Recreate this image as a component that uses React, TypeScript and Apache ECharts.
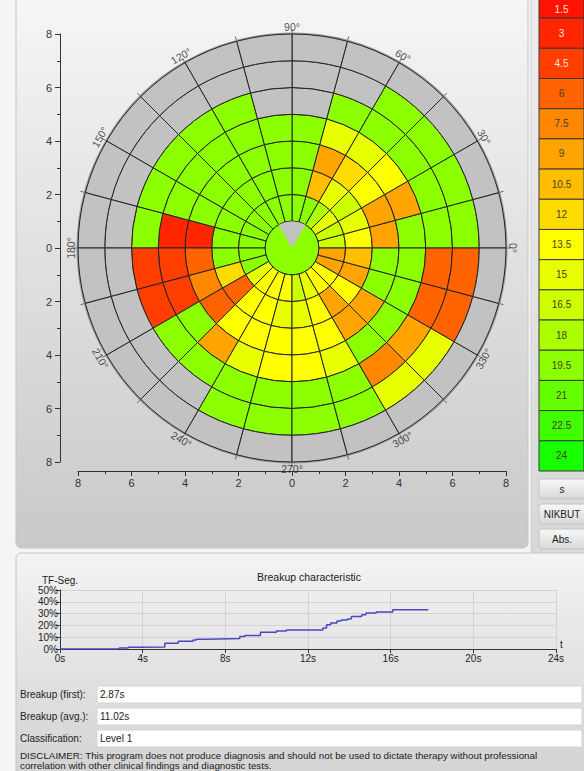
import React, { useEffect, useRef } from 'react';
import * as echarts from 'echarts';

// ---- colour scale (legend on the right) ----
const legendValues = ['1.5', '3', '4.5', '6', '7.5', '9', '10.5', '12', '13.5', '15', '16.5', '18', '19.5', '21', '22.5', '24'];
const legendColors = ['#ff1200', '#ff2600', '#ff3e00', '#ff6400', '#ff8800', '#ffa400', '#ffbf00', '#ffdc00', '#ffff00', '#e8ff00', '#ccff00', '#acff00', '#8cff00', '#66ff00', '#40ff00', '#18ff00'];
const GRAY = '#c2c2c2';

// ---- polar map: sector k spans [15k, 15k+15] degrees; ring j spans radius [j, j+1]; null = no data (gray) ----
const ring1 = [16.5, 16.5, 15, 18, 19.5, 19.5, 19.5, 19.5, 19.5, 19.5, 19.5, 19.5, 19.5, 19.5, 15, 13.5, 13.5, 13.5, 16.5, 15, 13.5, 13.5, 9, 9];
const ring2 = [13.5, 15, 16.5, 15, 10.5, 19.5, 19.5, 19.5, 19.5, 19.5, 19.5, 19.5, 19.5, 12, 6, 13.5, 13.5, 15, 15, 13.5, 9, 13.5, 9, 10.5];
const ring3 = [9, 9, 13.5, 12, 9, 19.5, 19.5, 19.5, 19.5, 19.5, 19.5, 3, 6, 7.5, 6, 13.5, 13.5, 13.5, 13.5, 13.5, 9, 9, 19.5, 19.5];
const ring4 = [19.5, 9, 13.5, 15, 15, 19.5, 19.5, 19.5, 19.5, 19.5, 19.5, 3, 4.5, 4.5, 19.5, 9, 15, 13.5, 13.5, 15, 19.5, 19.5, 19.5, 19.5];
const ring5 = [19.5, 19.5, 19.5, 19.5, 19.5, null, null, 19.5, 19.5, 19.5, 19.5, 19.5, 4.5, 4.5, 19.5, 19.5, 19.5, 19.5, 19.5, 19.5, 7.5, 9, 6, 6];
const ring6 = [19.5, 19.5, 19.5, 19.5, null, null, null, null, null, null, null, null, null, null, null, null, 19.5, 19.5, 19.5, 19.5, 15, 15, 6, 6];
const ring7 = [null, null, null, null, null, null, null, null, null, null, null, null, null, null, null, null, null, null, null, null, null, null, null, null];
const rings = [ring1, ring2, ring3, ring4, ring5, ring6, ring7];
const sectorWidth = 15;
const centerValue = 19.5;
const centerGapAngles = [60, 75, 90, 105, 120];
const angleLabels = [0, 30, 60, 90, 120, 150, 180, 210, 240, 270, 300, 330];

// ---- breakup characteristic (step line) ----
const breakupTime = [0, 2.87, 3.3, 4.0, 5.07, 5.72, 6.44, 6.6, 7.08, 8.7, 8.94, 9.7, 10.47, 10.95, 12.72, 12.9, 13.1, 13.4, 13.6, 13.9, 14.1, 14.6, 14.8, 15.3, 16.1, 17.8];
const breakupShare = [0, 0.8, 1.4, 1.8, 4.9, 6.6, 7.7, 8.3, 8.8, 10.5, 11.5, 14.2, 15.3, 16.2, 17.7, 20.5, 22, 23.7, 24.5, 25.4, 27.6, 29, 30.5, 31.4, 33.3, 33.9];

const fieldLabels = ['Breakup (first):', 'Breakup (avg.):', 'Classification:'];
const fieldValues = ['2.87s', '11.02s', 'Level 1'];
const buttonLabels = ['s', 'NIKBUT', 'Abs.'];
const disclaimer1 = 'DISCLAIMER: This program does not produce diagnosis and should not be used to dictate therapy without professional';
const disclaimer2 = 'correlation with other clinical findings and diagnostic tests.';

const FONT = 'Liberation Sans';

function colorFor(v: number | null) {
  if (v == null || v <= 0) return GRAY;
  let best = 0;
  let bd = Infinity;
  legendValues.forEach((lv, i) => {
    const d = Math.abs(parseFloat(lv) - v);
    if (d < bd) { bd = d; best = i; }
  });
  return legendColors[best];
}

export default function App() {
  const ref = useRef<HTMLDivElement>(null);
  useEffect(() => {
    if (!ref.current) return;
    const chart = echarts.init(ref.current, null, { renderer: 'svg' });

    const cellData: any[] = [];
    rings.forEach((ring, ri) => {
      ring.forEach((v, k) => cellData.push([k, ri + 1, v == null ? 0 : v]));
    });

    const grad = (a: string, b: string) => new echarts.graphic.LinearGradient(0, 0, 0, 1, [
      { offset: 0, color: a }, { offset: 1, color: b },
    ]);

    const graphics: any[] = [
      { type: 'rect', z: -20, silent: true, shape: { x: 0, y: 0, width: 584, height: 771 }, style: { fill: '#f5f5f5' } },
      { type: 'rect', z: -19, silent: true, shape: { x: 16, y: -6, width: 512, height: 554, r: 5 }, style: { fill: grad('#f6f6f6', '#c9c9c9'), stroke: '#c6c6c6', lineWidth: 1 } },
      { type: 'rect', z: -19, silent: true, shape: { x: 531, y: -6, width: 60, height: 560, r: 4 }, style: { fill: grad('#eeeeee', '#d8d8d8'), stroke: '#d0d0d0', lineWidth: 1 } },
      { type: 'rect', z: -19, silent: true, shape: { x: 16, y: 553, width: 580, height: 230, r: 5 }, style: { fill: grad('#f3f3f3', '#d2d2d2'), stroke: '#c6c6c6', lineWidth: 1 } },
    ];
    buttonLabels.forEach((b, i) => {
      const y = [479, 504, 529][i];
      graphics.push({ type: 'rect', z: 5, silent: true, shape: { x: 539, y, width: 52, height: 20, r: 3 }, style: { fill: grad('#f8f8f8', '#d8d8d8'), stroke: '#c4c4c4', lineWidth: 1 } });
      graphics.push({ type: 'text', z: 6, silent: true, x: 562, y: y + 10, style: { text: b, fill: '#222', font: `10px "${FONT}"`, align: 'center', verticalAlign: 'middle' } });
    });
    fieldLabels.forEach((l, i) => {
      const y = 686 + i * 22;
      graphics.push({ type: 'text', z: 6, silent: true, x: 20, y: y + 8.5, style: { text: l, fill: '#222', font: `10px "${FONT}"`, verticalAlign: 'middle' } });
      graphics.push({ type: 'rect', z: 5, silent: true, shape: { x: 97, y, width: 485, height: 17 }, style: { fill: '#ffffff', stroke: '#d4d4d4', lineWidth: 1 } });
      graphics.push({ type: 'text', z: 6, silent: true, x: 100, y: y + 8.5, style: { text: fieldValues[i], fill: '#222', font: `10px "${FONT}"`, verticalAlign: 'middle' } });
    });
    graphics.push({ type: 'text', z: 6, silent: true, x: 20, y: 755, style: { text: disclaimer1, fill: '#222', font: `9.8px "${FONT}"`, verticalAlign: 'middle' } });
    graphics.push({ type: 'text', z: 6, silent: true, x: 20, y: 765.5, style: { text: disclaimer2, fill: '#222', font: `9.8px "${FONT}"`, verticalAlign: 'middle' } });

    const axisCommon = {
      axisLine: { show: true, onZero: false, lineStyle: { color: '#333' } },
      axisTick: { show: true, length: 5, lineStyle: { color: '#333' } },
      minorTick: { show: true, splitNumber: 2, length: 3, lineStyle: { color: '#333' } },
      splitLine: { show: false },
    };

    const option: any = {
      animation: false,
      textStyle: { fontFamily: FONT },
      title: {
        text: 'Breakup characteristic', left: 252, top: 566,
        textStyle: { fontSize: 10.5, fontWeight: 'normal', color: '#222', fontFamily: FONT },
      },
      graphic: graphics,
      polar: { center: [292, 248], radius: 214 },
      angleAxis: {
        type: 'value', min: 0, max: 360, interval: 15, startAngle: 0, clockwise: false,
        axisLine: { show: true, lineStyle: { color: '#9a9a9a', width: 3 } },
        axisTick: { show: true, length: 5, lineStyle: { color: '#666' } },
        axisLabel: { show: false },
        splitLine: { show: false },
      },
      radiusAxis: { type: 'value', min: 0, max: 8, show: false, splitLine: { show: false } },
      grid: [
        { left: 78, top: 34, width: 428, height: 428, show: false },
        { left: 539, top: 0, width: 45, height: 471, show: false },
        { left: 60, top: 590, width: 496, height: 59, show: false },
      ],
      xAxis: [
        {
          gridIndex: 0, type: 'value', min: -8, max: 8, interval: 2, position: 'bottom', offset: 9,
          ...axisCommon,
          axisLabel: { formatter: (v: number) => String(Math.abs(v)), color: '#333', fontSize: 11, margin: 6 },
        },
        { gridIndex: 1, type: 'value', min: 0, max: 1, show: false },
        {
          gridIndex: 2, type: 'value', min: 0, max: 24, interval: 4,
          name: 't', nameGap: 4, nameTextStyle: { fontSize: 10, color: '#222', verticalAlign: 'bottom' },
          axisLine: { show: true, onZero: false, lineStyle: { color: '#333' } },
          axisTick: { show: true, length: 4, lineStyle: { color: '#333' } },
          axisLabel: { formatter: (v: number) => v + 's', color: '#222', fontSize: 10, margin: 4 },
          splitLine: { show: true, lineStyle: { color: '#d2d2d2' } },
        },
      ],
      yAxis: [
        {
          gridIndex: 0, type: 'value', min: -8, max: 8, interval: 2, position: 'left', offset: 18,
          ...axisCommon,
          axisLabel: { formatter: (v: number) => String(Math.abs(v)), color: '#333', fontSize: 11, margin: 8 },
        },
        { gridIndex: 1, type: 'value', min: 0.4, max: 16, inverse: true, show: false },
        {
          gridIndex: 2, type: 'value', min: 0, max: 50, interval: 10,
          name: 'TF-Seg.', nameGap: 3, nameTextStyle: { fontSize: 10, color: '#222' },
          axisLine: { show: true, onZero: false, lineStyle: { color: '#333' } },
          axisTick: { show: true, length: 4, lineStyle: { color: '#333' } },
          axisLabel: { formatter: (v: number) => v + '%', color: '#222', fontSize: 10, margin: 2 },
          splitLine: { show: true, lineStyle: { color: '#d2d2d2' } },
        },
      ],
      series: [
        {
          type: 'custom', coordinateSystem: 'polar', polarIndex: 0, z: 2,
          data: cellData,
          renderItem: (params: any, api: any) => {
            const k = api.value(0);
            const j = api.value(1);
            const v = api.value(2);
            const a1 = k * sectorWidth;
            const a2 = a1 + sectorWidth;
            const c = api.coord([0, a1]);
            const cx = c[0];
            const cy = c[1];
            const o1 = api.coord([8, a1]);
            const o2 = api.coord([8, a2]);
            const pin = api.coord([j, a1]);
            const pout = api.coord([j + 1, a1]);
            const r0 = Math.hypot(pin[0] - cx, pin[1] - cy);
            const r = Math.hypot(pout[0] - cx, pout[1] - cy);
            const s1 = Math.atan2(o1[1] - cy, o1[0] - cx);
            const s2 = Math.atan2(o2[1] - cy, o2[0] - cx);
            let e = s1;
            while (e <= s2) e += Math.PI * 2;
            return {
              type: 'sector',
              shape: { cx, cy, r0, r, startAngle: s2, endAngle: e, clockwise: true },
              style: { fill: colorFor(v), stroke: '#242424', lineWidth: 1 },
            };
          },
        },
        {
          type: 'custom', coordinateSystem: 'polar', polarIndex: 0, z: 3,
          data: [[0, 0, centerValue]],
          renderItem: (params: any, api: any) => {
            const c = api.coord([0, 0]);
            const e = api.coord([1, 0]);
            const r = Math.hypot(e[0] - c[0], e[1] - c[1]);
            const pts: number[][] = [[c[0], c[1]]];
            centerGapAngles.forEach((a) => { const p = api.coord([1, a]); pts.push([p[0], p[1]]); });
            return {
              type: 'group',
              children: [
                { type: 'circle', shape: { cx: c[0], cy: c[1], r }, style: { fill: colorFor(api.value(2)), stroke: '#242424', lineWidth: 1 } },
                { type: 'polygon', shape: { points: pts }, style: { fill: GRAY } },
              ],
            };
          },
        },
        {
          type: 'scatter', coordinateSystem: 'polar', polarIndex: 0, z: 6, symbolSize: 1, clip: false,
          itemStyle: { color: 'rgba(0,0,0,0)' },
          data: angleLabels.map((a) => ({
            value: [8.28, a],
            label: { rotate: a <= 180 ? a - 90 : a - 270 },
          })),
          label: {
            show: true, position: 'inside', fontSize: 10.5, color: '#222',
            formatter: (p: any) => p.value[1] + '°',
          },
        },
        {
          type: 'custom', xAxisIndex: 1, yAxisIndex: 1, z: 4,
          data: legendValues.map((v, i) => [i, parseFloat(v)]),
          renderItem: (params: any, api: any) => {
            const i = api.value(0);
            const p0 = api.coord([0, i]);
            const p1 = api.coord([1, i + 1]);
            const first = i === 0;
            return {
              type: 'rect',
              shape: { x: p0[0], y: p0[1], width: p1[0] - p0[0], height: p1[1] - p0[1] },
              style: { fill: legendColors[i], stroke: '#3a3a3a', lineWidth: 1 },
              textContent: {
                style: { text: legendValues[i], fill: i < 3 ? '#ffe2d6' : '#4a4020', font: `10px "${FONT}"` },
              },
              textConfig: first ? { position: 'insideBottom', distance: 4 } : { position: 'inside' },
            };
          },
        },
        {
          type: 'line', xAxisIndex: 2, yAxisIndex: 2, step: 'end', symbol: 'none',
          data: breakupTime.map((t, i) => [t, breakupShare[i]]),
          lineStyle: { color: '#4848c4', width: 1.5 },
        },
      ],
    };
    chart.setOption(option);
    return () => chart.dispose();
  }, []);
  return <div ref={ref} style={{ position: 'absolute', left: 0, top: 0, width: 584, height: 771 }} />;
}
